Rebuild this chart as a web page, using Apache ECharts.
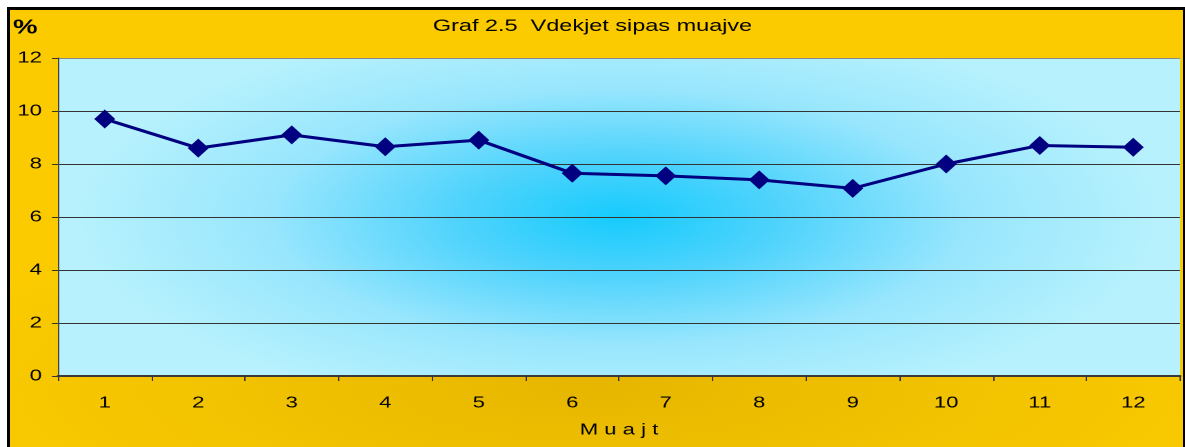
<!DOCTYPE html>
<html>
<head>
<meta charset="utf-8">
<script src="https://cdn.jsdelivr.net/npm/echarts@6/dist/echarts.min.js"></script>
<style>
  html, body { margin: 0; padding: 0; background: #fff; }
  .wrap { position: relative; width: 1185px; height: 447px; overflow: hidden; background: #fff; }
  .frame {
    position: absolute; left: 7px; top: 7px; width: 1173px; height: 460px;
    border-left: 3px solid #000; border-top: 3px solid #000; border-right: 3px solid #000;
    background: radial-gradient(ellipse 60% 40% at 50% 82%, #e6b600 0%, #f2c300 55%, #fbcb00 100%);
  }
  .plot {
    position: absolute; left: 58px; top: 58px; width: 1122px; height: 318px;
    background: radial-gradient(ellipse 48% 62% at 50% 50%, #16cbfd 0%, #4fd3fc 30%, #98e6fd 65%, #b6f1fd 100%);
  }
  /* the original picture is stretched sideways, so the chart is drawn narrow and widened */
  #chart {
    position: absolute; left: 0; top: 0; width: 859px; height: 447px;
    transform: scaleX(1.3795); transform-origin: 0 0;
  }
</style>
</head>
<body>
<div class="wrap">
  <div class="frame"></div>
  <div class="plot"></div>
  <div id="chart"></div>
</div>
<script>
// Vdekjet sipas muajve (%)
const months = ['1', '2', '3', '4', '5', '6', '7', '8', '9', '10', '11', '12']
const deaths = [9.7, 8.6, 9.1, 8.65, 8.9, 7.65, 7.55, 7.4, 7.08, 8.0, 8.7, 8.63]
const yTicks = { min: 0, max: 12, interval: 2 }

const font = "'Liberation Sans', Arial, sans-serif"
const sx = 1.3795 // horizontal stretch

const chart = echarts.init(document.getElementById('chart'), null, { devicePixelRatio: 2 })
chart.setOption({
  backgroundColor: 'transparent',
  animation: false,
  title: {
    text: 'Graf 2.5  Vdekjet sipas muajve',
    left: 'center',
    top: 13,
    textStyle: { fontFamily: font, fontSize: 17, fontWeight: 'normal', color: '#000' }
  },
  graphic: [{
    type: 'text',
    left: 13 / sx,
    top: 18,
    style: { text: '%', fontFamily: font, fontSize: 20, fontWeight: 'bold', fill: '#000' }
  }],
  grid: { left: 58 / sx, right: 5 / sx, top: 58, bottom: 71, outerBoundsMode: 'none' },
  xAxis: {
    type: 'category',
    data: months,
    boundaryGap: true,
    name: 'M u a j t',
    nameLocation: 'middle',
    nameGap: 46,
    nameTextStyle: { fontFamily: font, fontSize: 16, color: '#000' },
    axisLine: { lineStyle: { color: '#3a3a3a', width: 2 } },
    axisTick: { show: true, interval: 0, length: 5, lineStyle: { color: '#333' } },
    axisLabel: { fontFamily: font, fontSize: 16, color: '#000', margin: 19 },
    splitLine: { show: false }
  },
  yAxis: {
    type: 'value',
    min: yTicks.min,
    max: yTicks.max,
    interval: yTicks.interval,
    axisLine: { show: true, lineStyle: { color: '#444', width: 1 } },
    axisTick: { show: true, length: 6 / sx, lineStyle: { color: '#333' } },
    axisLabel: { fontFamily: font, fontSize: 16, color: '#000', margin: 16 / sx },
    splitLine: {
      show: true,
      lineStyle: { color: ['#333', '#333', '#333', '#333', '#333', '#333', '#888'], width: 1 }
    }
  },
  series: [{
    type: 'line',
    data: deaths,
    symbol: 'diamond',
    symbolSize: [21 / sx, 19],
    lineStyle: { color: '#000080', width: 3 },
    itemStyle: { color: '#000080' }
  }]
})
</script>
</body>
</html>
